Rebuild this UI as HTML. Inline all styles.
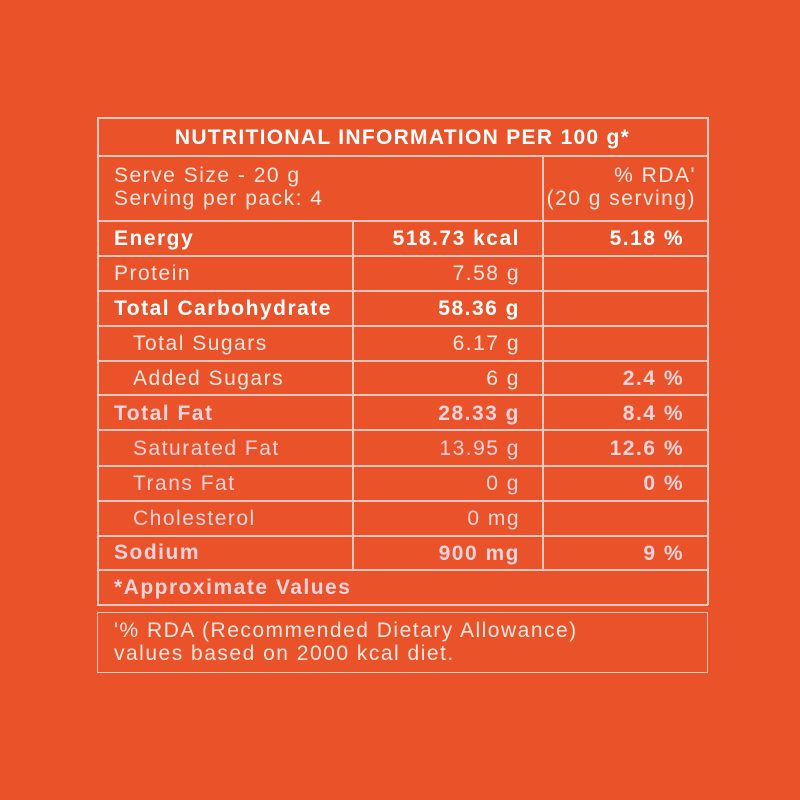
<!DOCTYPE html>
<html><head><meta charset="utf-8"><style>
body{margin:0;width:800px;height:800px;background:#ea522a;position:relative;overflow:hidden;font-family:"Liberation Sans",sans-serif;color:#fde8e0}
.l{position:absolute;background:#f8c6bc}
.t{position:absolute;font-size:21px;line-height:23px;white-space:nowrap;letter-spacing:1.5px}
.b{font-weight:bold;color:#fbd3d8}
.r{text-align:right;margin-right:-1.5px}
</style></head><body>
<div>
<div class="l" style="left:97px;top:117px;width:611px;height:1.5px"></div>
<div class="l" style="left:97px;top:155px;width:611px;height:1.5px"></div>
<div class="l" style="left:97px;top:220px;width:611px;height:1.5px"></div>
<div class="l" style="left:97px;top:255px;width:611px;height:1.5px"></div>
<div class="l" style="left:97px;top:290px;width:611px;height:1.5px"></div>
<div class="l" style="left:97px;top:325px;width:611px;height:1.5px"></div>
<div class="l" style="left:97px;top:360px;width:611px;height:1.5px"></div>
<div class="l" style="left:97px;top:394px;width:611px;height:1.5px"></div>
<div class="l" style="left:97px;top:429px;width:611px;height:1.5px"></div>
<div class="l" style="left:97px;top:465px;width:611px;height:1.5px"></div>
<div class="l" style="left:97px;top:500px;width:611px;height:1.5px"></div>
<div class="l" style="left:97px;top:535px;width:611px;height:1.5px"></div>
<div class="l" style="left:97px;top:569px;width:611px;height:1.5px"></div>
<div class="l" style="left:97px;top:604px;width:611px;height:1.5px"></div>
<div class="l" style="left:97px;top:117px;width:1.5px;height:488px"></div>
<div class="l" style="left:707px;top:117px;width:1.5px;height:488px"></div>
<div class="l" style="left:352px;top:220px;width:1.5px;height:350px"></div>
<div class="l" style="left:542px;top:155px;width:1.5px;height:415px"></div>

<div class="t" style="left:97px;width:611px;top:126px;text-align:center;font-weight:bold;font-size:21px;letter-spacing:1.3px;color:#fff">NUTRITIONAL INFORMATION PER 100 g*</div>
<div class="t" style="left:114px;top:164px">Serve Size - 20 g<br>Serving per pack: 4</div>
<div class="t r" style="left:542px;width:154px;top:164px">% RDA'<br>(20 g serving)</div>

<div class="t b" style="left:114px;top:227px;color:#fff">Energy</div>
<div class="t b r" style="left:352px;width:168px;top:227px;color:#fff">518.73 kcal</div>
<div class="t b r" style="left:542px;width:142px;top:227px;color:#fff">5.18 %</div>

<div class="t" style="left:114px;top:262px">Protein</div>
<div class="t r" style="left:352px;width:168px;top:262px">7.58 g</div>

<div class="t b" style="left:114px;top:297px;color:#fff">Total Carbohydrate</div>
<div class="t b r" style="left:352px;width:168px;top:297px;color:#fff">58.36 g</div>

<div class="t" style="left:133px;top:332px">Total Sugars</div>
<div class="t r" style="left:352px;width:168px;top:332px">6.17 g</div>

<div class="t" style="left:133px;top:367px">Added Sugars</div>
<div class="t r" style="left:352px;width:168px;top:367px">6 g</div>
<div class="t b r" style="left:542px;width:142px;top:367px">2.4 %</div>

<div class="t b" style="left:114px;top:402px">Total Fat</div>
<div class="t b r" style="left:352px;width:168px;top:402px">28.33 g</div>
<div class="t b r" style="left:542px;width:142px;top:402px">8.4 %</div>

<div class="t" style="left:133px;top:437px;color:#fbd3d8">Saturated Fat</div>
<div class="t r" style="left:352px;width:168px;top:437px;color:#fbd3d8">13.95 g</div>
<div class="t b r" style="left:542px;width:142px;top:437px">12.6 %</div>

<div class="t" style="left:133px;top:472px;color:#fbd3d8">Trans Fat</div>
<div class="t r" style="left:352px;width:168px;top:472px;color:#fbd3d8">0 g</div>
<div class="t b r" style="left:542px;width:142px;top:472px">0 %</div>

<div class="t" style="left:133px;top:507px;color:#fbd3d8">Cholesterol</div>
<div class="t r" style="left:352px;width:168px;top:507px;color:#fbd3d8">0 mg</div>

<div class="t b" style="left:114px;top:541px">Sodium</div>
<div class="t b r" style="left:352px;width:168px;top:542px">900 mg</div>
<div class="t b r" style="left:542px;width:142px;top:542px">9 %</div>

<div class="t b" style="left:114px;top:576px">*Approximate Values</div>
</div>

<div style="position:absolute;left:97px;top:612px;width:609px;height:59px;border:1.5px solid #f8c6bc"></div>
<div class="t" style="left:114px;top:619px">'% RDA (Recommended Dietary Allowance)<br>values based on 2000 kcal diet.</div>
</body></html>
